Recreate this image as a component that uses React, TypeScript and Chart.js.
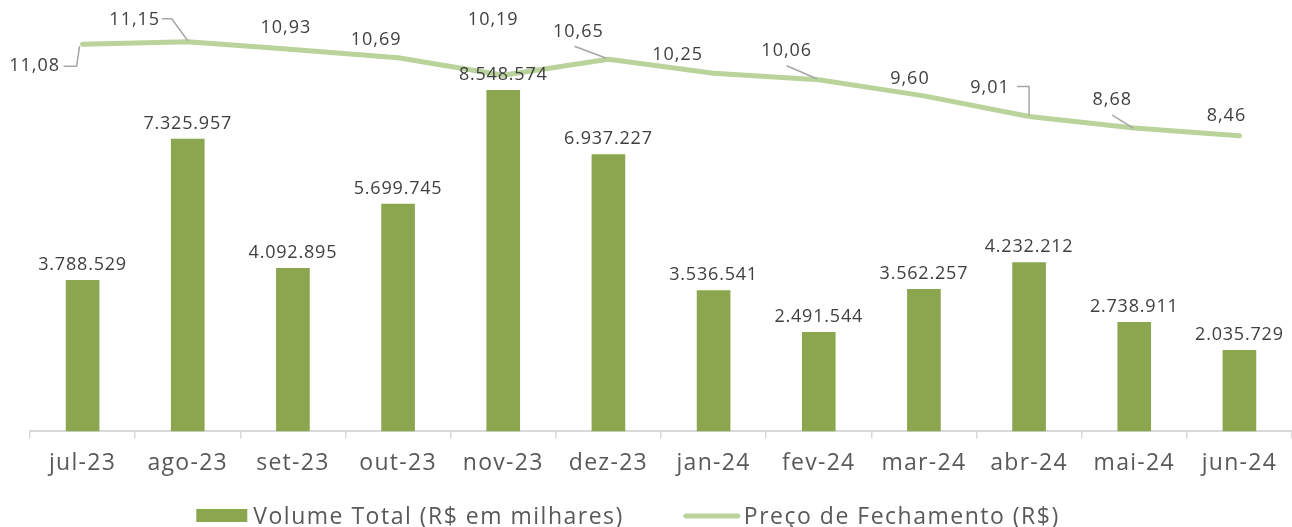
import React, { useEffect, useRef } from "react";
import { Chart, registerables } from "chart.js";

Chart.register(...registerables);

const FONT = "'Open Sans', 'DejaVu Sans', sans-serif";

const categories = ["jul-23", "ago-23", "set-23", "out-23", "nov-23", "dez-23", "jan-24", "fev-24", "mar-24", "abr-24", "mai-24", "jun-24"];
const volume = [3788529, 7325957, 4092895, 5699745, 8548574, 6937227, 3536541, 2491544, 3562257, 4232212, 2738911, 2035729];
const price = [11.08, 11.15, 10.93, 10.69, 10.19, 10.65, 10.25, 10.06, 9.6, 9.01, 8.68, 8.46];
const volumeLabel = "Volume Total (R$ em milhares)";
const priceLabel = "Preço de Fechamento (R$)";

// label placement offsets (px) relative to each price point
const priceLabelOffsets: number[][] = [
  [-48, 22], [-53, -22], [-7, -22], [-22, -18], [-10, -55], [-30, -27],
  [-36, -18], [-32, -29], [-14, -17], [-39, -29], [-22, -28], [-13, -20],
];
// leader lines (px polylines relative to each price point)
const priceLeaders: (number[][] | null)[] = [
  [[-19, 22], [-6, 22], [-3, 2]],
  [[-26, -23], [-16, -23], [0, -1]],
  null, null, null,
  [[-34, -13], [-2, -1]],
  null,
  [[-32, -14], [-2, -1]],
  null,
  [[-12, -30], [0, -30], [0, -1]],
  [[-22, -13], [-1, 0]],
  null,
];

const BAR_COLOR = "#8BA64E";
const LINE_COLOR = "#BAD39B";

function fmtInt(v: number): string {
  return String(Math.round(v)).replace(/\B(?=(\d{3})+(?!\d))/g, ".");
}
function fmtDec(v: number): string {
  return v.toFixed(2).replace(".", ",");
}

const spacingPlugin = {
  id: "letterSpacing",
  beforeUpdate(chart: any) {
    (chart.ctx as any).letterSpacing = "1.3px";
  },
  beforeLayout(chart: any) {
    (chart.ctx as any).letterSpacing = "1.3px";
  },
  beforeDraw(chart: any) {
    (chart.ctx as any).letterSpacing = "1.3px";
  },
};

const labelPlugin = {
  id: "customLabels",
  afterDatasetsDraw(chart: any) {
    const ctx = chart.ctx;
    ctx.save();
    ctx.font = `18px ${FONT}`;
    (ctx as any).letterSpacing = "0.8px";
    ctx.fillStyle = "#404040";
    ctx.textAlign = "center";
    ctx.textBaseline = "middle";
    const barMeta = chart.getDatasetMeta(0);
    barMeta.data.forEach((el: any, i: number) => {
      ctx.fillText(fmtInt(volume[i]), el.x, el.y - 15);
    });
    const lineMeta = chart.getDatasetMeta(1);
    ctx.strokeStyle = "#A6A6A6";
    ctx.lineWidth = 1.5;
    (ctx as any).letterSpacing = "1px";
    lineMeta.data.forEach((el: any, i: number) => {
      const ld = priceLeaders[i];
      if (ld) {
        ctx.beginPath();
        ld.forEach(([dx, dy], k) => {
          if (k === 0) ctx.moveTo(el.x + dx, el.y + dy);
          else ctx.lineTo(el.x + dx, el.y + dy);
        });
        ctx.stroke();
      }
      const [dx, dy] = priceLabelOffsets[i];
      ctx.fillText(fmtDec(price[i]), el.x + dx, el.y + dy);
    });
    ctx.restore();
  },
};

const legendPlugin = {
  id: "customLegend",
  afterDraw(chart: any) {
    const ctx = chart.ctx;
    ctx.save();
    ctx.font = `23px ${FONT}`;
    (ctx as any).letterSpacing = "1.5px";
    ctx.fillStyle = "#595959";
    ctx.textBaseline = "middle";
    ctx.textAlign = "left";
    const w1 = ctx.measureText(volumeLabel).width;
    const w2 = ctx.measureText(priceLabel).width;
    const sw = 51, gap1 = 6, gapMid = 60, lw = 56, gap2 = 4;
    const total = sw + gap1 + w1 + gapMid + lw + gap2 + w2;
    let x = 628 - total / 2;
    const y = 516;
    ctx.fillStyle = BAR_COLOR;
    ctx.fillRect(x, y - 7, sw, 13);
    x += sw + gap1;
    ctx.fillStyle = "#595959";
    ctx.fillText(volumeLabel, x, y + 1);
    x += w1 + gapMid;
    ctx.strokeStyle = LINE_COLOR;
    ctx.lineWidth = 5;
    ctx.lineCap = "round";
    ctx.beginPath();
    ctx.moveTo(x + 2, y);
    ctx.lineTo(x + lw - 2, y);
    ctx.stroke();
    x += lw + gap2;
    ctx.fillText(priceLabel, x, y + 1);
    ctx.restore();
  },
};

export default function App() {
  const canvasRef = useRef<HTMLCanvasElement | null>(null);

  useEffect(() => {
    if (!canvasRef.current) return;
    const chart = new Chart(canvasRef.current, {
      type: "bar",
      data: {
        labels: categories,
        datasets: [
          {
            type: "bar",
            label: volumeLabel,
            data: volume,
            backgroundColor: BAR_COLOR,
            barPercentage: 0.32,
            categoryPercentage: 1,
            yAxisID: "y",
            order: 2,
          },
          {
            type: "line",
            label: priceLabel,
            data: price,
            borderColor: LINE_COLOR,
            borderWidth: 5,
            borderCapStyle: "round",
            borderJoinStyle: "round",
            pointRadius: 0,
            tension: 0,
            yAxisID: "y1",
            order: 1,
          } as any,
        ],
      },
      options: {
        animation: false,
        responsive: true,
        maintainAspectRatio: false,
        layout: { padding: { left: 30, right: -4, top: 12, bottom: 39 } },
        plugins: {
          legend: { display: false },
          tooltip: { enabled: false },
        },
        scales: {
          x: {
            offset: true,
            grid: {
              display: true,
              drawOnChartArea: false,
              drawTicks: true,
              tickLength: 7,
              color: "#D9D9D9",
              lineWidth: 1.5,
              offset: true,
            },
            border: { display: true, color: "#D9D9D9", width: 2 },
            ticks: {
              color: "#595959",
              font: { family: FONT, size: 23 },
              padding: 11,
              maxRotation: 0,
              autoSkip: false,
            },
          },
          y: { display: false, min: 0, max: 10500000 },
          y1: { display: false, min: 0, max: 12, position: "right" },
        },
      },
      plugins: [spacingPlugin, labelPlugin, legendPlugin],
    });
    return () => chart.destroy();
  }, []);

  return (
    <div style={{ position: "fixed", left: 0, top: 0, width: 1292, height: 527, background: "#fff" }}>
      <canvas ref={canvasRef} />
    </div>
  );
}
